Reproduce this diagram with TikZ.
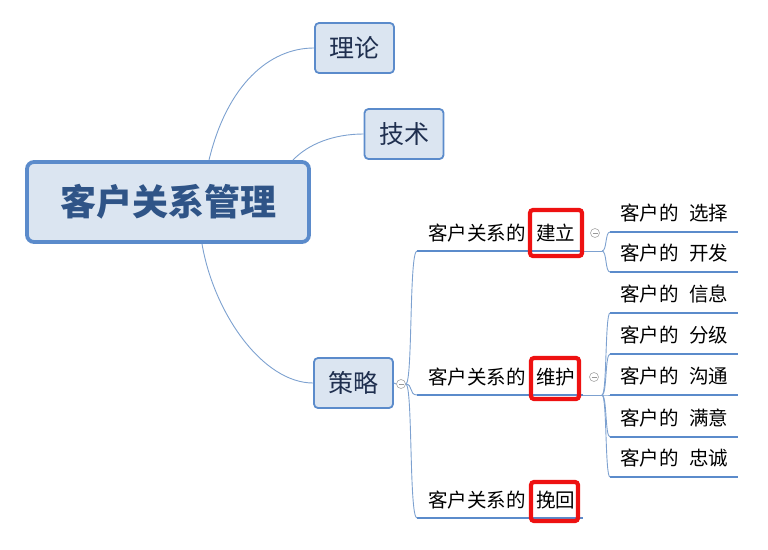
\documentclass[tikz,border=0pt]{standalone}
\usepackage{fontspec}
\setmainfont{Noto Sans CJK SC}
\usepackage{xcolor}
\usetikzlibrary{calc}

\definecolor{boxfill}{HTML}{DBE5F1}
\definecolor{boxline}{HTML}{5B8BCB}
\definecolor{twigline}{HTML}{7DA1D0}
\definecolor{rootfont}{HTML}{2F5487}
\definecolor{boxfont}{HTML}{1F2F4F}
\definecolor{markred}{HTML}{EE1111}

\begin{document}
\begin{tikzpicture}[x=1pt,y=-1pt,
    rootbox/.style={draw=boxline,fill=boxfill,rounded corners=7pt,line width=3.8pt,
        minimum width=282pt,minimum height=80pt,inner sep=0pt,text=rootfont,
        font=\fontsize{36}{36}\selectfont\bfseries},
    topic/.style={draw=boxline,fill=boxfill,rounded corners=4pt,line width=1.8pt,
        minimum width=79pt,minimum height=50pt,inner sep=0pt,text=boxfont,
        font=\fontsize{25}{25}\selectfont},
    branch/.style={anchor=south west,text width=144pt,inner xsep=11pt,inner ysep=0pt,
        minimum height=36pt,font=\fontsize{19.5}{19.5}\selectfont},
    leaf/.style={anchor=south west,text width=108pt,inner xsep=10pt,inner ysep=0pt,
        minimum height=38pt,font=\fontsize{19.5}{19.5}\selectfont},
    uline/.style={draw=boxline,line width=2.8pt},
    twig/.style={draw=twigline,line width=0.9pt},
    fold/.style={circle,draw=gray!70,fill=white,line width=0.6pt,minimum size=9pt,inner sep=0pt,
        path picture={\draw[gray!80,line width=0.6pt]
            ([xshift=-2.5pt]path picture bounding box.center) -- ([xshift=2.5pt]path picture bounding box.center);}},
    redmark/.style={draw=markred,line width=4.2pt,rounded corners=3pt,inner sep=0pt}]
    \useasboundingbox (0,0) rectangle (768,549);

    \node[rootbox] (root) at (168,202) {客户关系管理};
    \node[topic] (lilun) at (354.5,48) {理论};
    \node[topic] (jishu) at (404,134) {技术};
    \node[topic] (celue) at (353.5,383) {策略};

    \draw[twig] ($(root.north)+(41,0)$) .. controls +(18,-75) and +(-45,0) .. (lilun.west);
    \draw[twig] ($(root.north)+(125,0)$) .. controls +(15,-16) and +(-30,0) .. (jishu.west);
    \draw[twig] ($(root.south)+(34,0)$) .. controls +(12,70) and +(-50,0) .. (celue.west);

    \node[fold] (f0) at (401,384) {};
    \draw[twig] (celue.east) -- (f0.west);

    \foreach \n/\y/\t in {1/251/建立,2/395/维护,3/518/挽回}{
        \node[branch] (b\n) at (417,\y) {客户关系的\kern0.55em\t};
        \draw[uline] (b\n.south west) -- (b\n.south east);
        \draw[twig] (f0.east) .. controls +(7,0) and +(-8,0) .. (b\n.south west);
    }

    \coordinate (j1) at (602,251);
    \coordinate (j2) at (602,395);
    \draw[twig] (b1.south east) -- (j1);
    \draw[twig] (b2.south east) -- (j2);
    \node[fold] (f1) at (595,233) {};
    \node[fold] (f2) at (594,377) {};

    \foreach \n/\y/\t in {1/232/选择,2/272/开发}{
        \node[leaf] (g1\n) at (610,\y) {客户的\kern0.55em\t};
        \draw[uline] (g1\n.south west) -- (g1\n.south east);
        \draw[twig] (j1) .. controls +(5,0) and +(-5,0) .. (g1\n.south west);
    }
    \foreach \n/\y/\t in {1/313/信息,2/354/分级,3/395/沟通,4/437/满意,5/477/忠诚}{
        \node[leaf] (g2\n) at (610,\y) {客户的\kern0.55em\t};
        \draw[uline] (g2\n.south west) -- (g2\n.south east);
        \draw[twig] (j2) .. controls +(5,0) and +(-5,0) .. (g2\n.south west);
    }

    \node[redmark,minimum width=52pt,minimum height=46pt] (r1) at (556,233) {};
    \node[redmark,minimum width=48pt,minimum height=41pt] (r2) at (555,378.5) {};
    \node[redmark,minimum width=47pt,minimum height=39pt] (r3) at (554.5,501.5) {};
\end{tikzpicture}
\end{document}
